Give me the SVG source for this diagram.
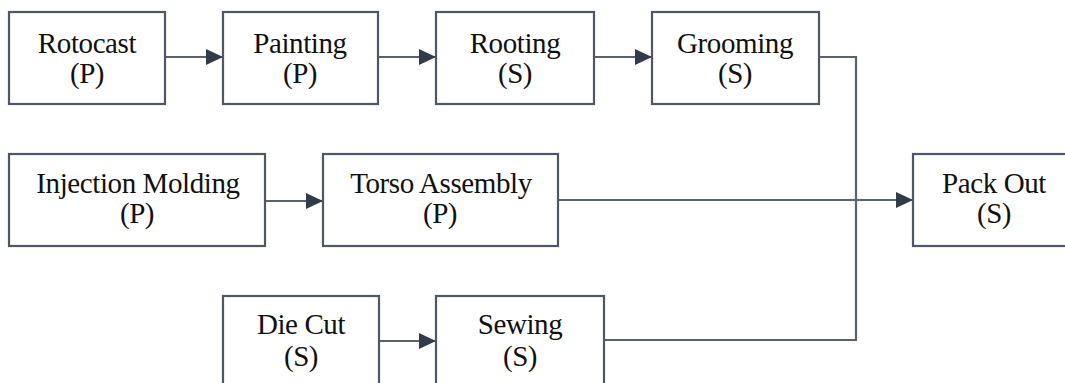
<svg xmlns="http://www.w3.org/2000/svg" width="1065" height="383" viewBox="0 0 1065 383">
<style>
.box{fill:#ffffff;stroke:#4f5764;stroke-width:2.2}
.lbl{font-family:"Liberation Serif","Times New Roman",serif;font-size:29px;letter-spacing:-0.4px;fill:#111111;text-anchor:middle}
.con{fill:none;stroke:#5a6270;stroke-width:2.2}
</style>
<defs>
<marker id="arr" markerUnits="userSpaceOnUse" markerWidth="17" markerHeight="16" refX="17" refY="8" orient="auto">
<path d="M0 0 L17 8 L0 16 Z" fill="#323b48"/>
</marker>
</defs>
<rect width="1065" height="383" fill="#ffffff"/>
<g id="connectors">
<path class="con" d="M165 57 H223" marker-end="url(#arr)"/>
<path class="con" d="M378 57 H436" marker-end="url(#arr)"/>
<path class="con" d="M594 57 H652" marker-end="url(#arr)"/>
<path class="con" d="M265 201 H323" marker-end="url(#arr)"/>
<path class="con" d="M558 200 H913" marker-end="url(#arr)"/>
<path class="con" d="M819 57 H856 V200"/>
<path class="con" d="M604 340 H856 V200"/>
<path class="con" d="M379 341 H436" marker-end="url(#arr)"/>
</g>
<g id="rotocast"><rect class="box" x="9" y="12" width="156" height="92"/><text class="lbl" x="87" y="53">Rotocast</text><text class="lbl" x="87" y="83">(P)</text></g>
<g id="painting"><rect class="box" x="223" y="12" width="155" height="92"/><text class="lbl" x="300" y="53">Painting</text><text class="lbl" x="300" y="83">(P)</text></g>
<g id="rooting"><rect class="box" x="436" y="12" width="158" height="92"/><text class="lbl" x="515" y="53">Rooting</text><text class="lbl" x="515" y="83">(S)</text></g>
<g id="grooming"><rect class="box" x="652" y="12" width="167" height="92"/><text class="lbl" x="735" y="53">Grooming</text><text class="lbl" x="735" y="83">(S)</text></g>
<g id="injection-molding"><rect class="box" x="9" y="154" width="256" height="92"/><text class="lbl" x="138" y="193">Injection Molding</text><text class="lbl" x="137" y="223">(P)</text></g>
<g id="torso-assembly"><rect class="box" x="323" y="154" width="235" height="92"/><text class="lbl" x="441" y="193">Torso Assembly</text><text class="lbl" x="440" y="223">(P)</text></g>
<g id="pack-out"><rect class="box" x="913" y="154" width="160" height="92"/><text class="lbl" x="994" y="193">Pack Out</text><text class="lbl" x="994" y="223">(S)</text></g>
<g id="die-cut"><rect class="box" x="223" y="296" width="156" height="100"/><text class="lbl" x="301" y="334">Die Cut</text><text class="lbl" x="301" y="366">(S)</text></g>
<g id="sewing"><rect class="box" x="436" y="296" width="168" height="100"/><text class="lbl" x="520" y="334">Sewing</text><text class="lbl" x="520" y="366">(S)</text></g>
</svg>
